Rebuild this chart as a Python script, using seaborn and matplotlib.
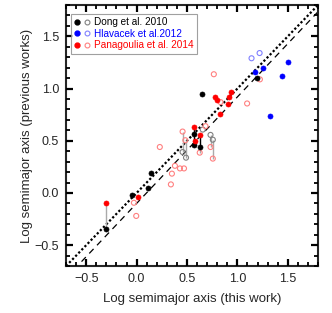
import matplotlib
matplotlib.use("Agg")
import matplotlib.pyplot as plt
import seaborn as sns
import numpy as np
import pandas as pd
from matplotlib.legend_handler import HandlerTuple
from matplotlib.ticker import MultipleLocator, AutoMinorLocator

# ---------------- data ----------------
dong_filled_x = [-0.307, -0.05, 0.11, 0.14, 0.566, 0.573, 0.626, 0.65, 1.19]
dong_filled_y = [-0.348, -0.017, 0.043, 0.194, 0.463, 0.56, 0.44, 0.95, 1.098]
dong_open_x = [0.456, 0.49, 0.656, 0.733, 0.756]
dong_open_y = [0.392, 0.338, 0.607, 0.556, 0.51]

hla_filled_x = [1.17, 1.256, 1.506, 1.44, 1.323]
hla_filled_y = [1.156, 1.194, 1.258, 1.117, 0.739]
hla_open_x = [1.14, 1.22]
hla_open_y = [1.29, 1.34]

pan_filled_x = [-0.307, 0.016, 0.566, 0.583, 0.626, 0.773, 0.80, 0.823, 0.91, 0.913, 0.936]
pan_filled_y = [-0.094, -0.043, 0.627, 0.495, 0.556, 0.915, 0.886, 0.76, 0.854, 0.915, 0.966]
pan_open_x = [-0.027, -0.004, 0.34, 0.35, 0.38, 0.43, 0.47, 0.23, 0.456, 0.483, 0.626,
              0.683, 0.733, 0.756, 0.766, 0.833, 1.096, 1.223]
pan_open_y = [-0.094, -0.22, 0.082, 0.185, 0.26, 0.235, 0.235, 0.44, 0.588, 0.505, 0.386,
              0.64, 0.44, 0.329, 1.137, 0.87, 0.857, 1.088]

# connecting segments (same object, different works)
seg_gray_x = [-0.307, 0.456, 0.487, 0.626, 0.733, 0.756]
seg_gray_y0 = [-0.348, 0.392, 0.338, 0.386, 0.44, 0.329]
seg_gray_y1 = [-0.094, 0.588, 0.505, 0.44, 0.556, 0.51]
seg_black_x = [0.566, 0.626]
seg_black_y0 = [0.463, 0.44]
seg_black_y1 = [0.627, 0.556]

labels = ["Dong et al. 2010", "Hlavacek et al.2012", "Panagoulia et al. 2014"]
fill_colors = ["black", "#0000ff", "#ff0000"]
open_colors = ["#808080", "#8080ff", "#ff8080"]

lims = [-0.7, 1.8]
fit_slope, fit_icpt = 1.02, -0.10

# ---------------- plot ----------------
sns.set_style("ticks")
plt.rcParams.update({
    'font.family': ['Liberation Sans', 'DejaVu Sans'],
    'axes.axisbelow': False,
})
fig = plt.figure(figsize=(3.32, 3.13), dpi=100)
ax = fig.add_axes([0.199, 0.150, 0.759, 0.834])

lx = np.array(lims)
sns.lineplot(x=lx, y=lx, ax=ax, color="black", linestyle=(0, (1, 1)), linewidth=1.6)
sns.lineplot(x=lx, y=fit_slope * lx + fit_icpt, ax=ax, color="black",
             linestyle=(0, (5, 4)), linewidth=0.9)

ax.vlines(seg_gray_x, seg_gray_y0, seg_gray_y1, color="#aaaaaa", linewidth=1.0, zorder=2)
ax.vlines(seg_black_x, seg_black_y0, seg_black_y1, color="black", linewidth=1.0, zorder=2)

groups = [
    (dong_filled_x, dong_filled_y, dong_open_x, dong_open_y),
    (hla_filled_x, hla_filled_y, hla_open_x, hla_open_y),
    (pan_filled_x, pan_filled_y, pan_open_x, pan_open_y),
]
handles = []
for (fx, fy, ox, oy), fc, oc in zip(groups, fill_colors, open_colors):
    sns.scatterplot(x=ox, y=oy, ax=ax, marker="o", s=13, facecolor="none",
                    edgecolor=oc, linewidth=0.8, zorder=3)
    sns.scatterplot(x=fx, y=fy, ax=ax, marker="o", s=13, color=fc,
                    edgecolor=fc, linewidth=0.5, zorder=4)
    h1 = plt.Line2D([], [], marker="o", linestyle="none", markersize=3.5,
                    markerfacecolor=fc, markeredgecolor=fc)
    h2 = plt.Line2D([], [], marker="o", linestyle="none", markersize=3.5,
                    markerfacecolor="none", markeredgecolor=oc, markeredgewidth=0.8)
    handles.append((h1, h2))

leg = ax.legend(handles, labels, handler_map={tuple: HandlerTuple(ndivide=None, pad=0.4)},
                loc="upper left", bbox_to_anchor=(0.02, 0.967), fontsize=7.2,
                frameon=True, fancybox=False, edgecolor="#888888",
                handlelength=1.5, handletextpad=0.4, borderpad=0.35,
                labelspacing=0.15, borderaxespad=0.0)
leg.get_frame().set_linewidth(0.8)
for t, c in zip(leg.get_texts(), fill_colors):
    t.set_color(c)

for sp in ax.spines.values():
    sp.set_linewidth(1.5)

ax.set_xlabel("Log semimajor axis (this work)", fontsize=9.5, labelpad=6)
ax.set_ylabel("Log semimajor axis (previous works)", fontsize=9.5, labelpad=1.5)

ax.set_xlim(lims)
ax.set_ylim(lims)
ax.xaxis.set_major_locator(MultipleLocator(0.5))
ax.yaxis.set_major_locator(MultipleLocator(0.5))
ax.xaxis.set_minor_locator(AutoMinorLocator(5))
ax.yaxis.set_minor_locator(AutoMinorLocator(5))
ax.tick_params(which="major", direction="in", length=5, width=1.6, color="black",
               top=True, right=True, labelsize=9, pad=5)
ax.tick_params(which="minor", direction="in", length=2.8, width=1.3, color="black",
               top=True, right=True)

fig.savefig("out.png", dpi=100)
